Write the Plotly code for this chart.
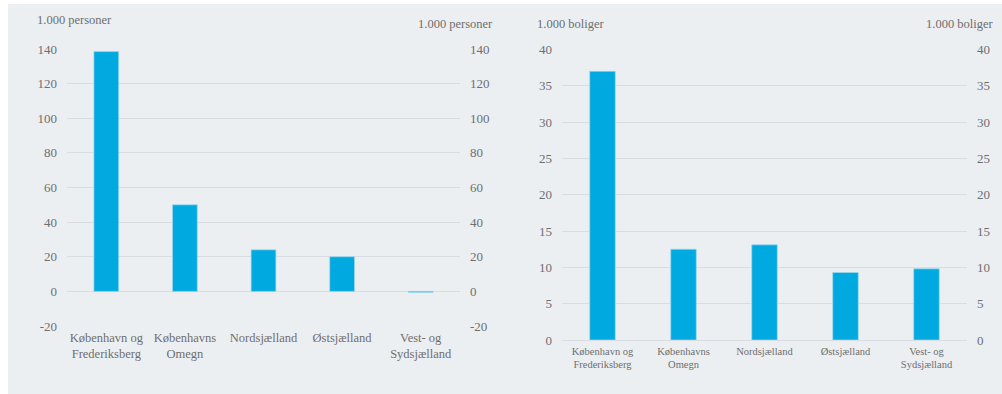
import plotly.graph_objects as go

# Regions shown on both panels
regions = [
    "København og<br>Frederiksberg",
    "Københavns<br>Omegn",
    "Nordsjælland",
    "Østsjælland",
    "Vest- og<br>Sydsjælland",
]

# Population growth, 1.000 persons
persons = [138.5, 50, 24, 20, -0.6]
# Housing need, 1.000 dwellings
dwellings = [37, 12.5, 13.1, 9.3, 9.8]

persons_ticks = [-20, 0, 20, 40, 60, 80, 100, 120, 140]
dwellings_ticks = [0, 5, 10, 15, 20, 25, 30, 35, 40]

W, H = 1002, 394
BAR = "#00A9E0"
BAR_EDGE = "#9ED8EE"
PANEL = "#ECEFF2"
GRID = "#D9DCE0"
TEXT = "#6E6E6E"
FONT = "Liberation Serif"


def px_x(v):
    return v / W


def px_y(v):
    return 1 - v / H


bar_style = dict(marker_color=BAR, marker_line=dict(color=BAR_EDGE, width=0.7))

fig = go.Figure()

# Left panel: persons
fig.add_trace(go.Bar(x=regions, y=persons, xaxis="x", yaxis="y",
                     hoverinfo="x+y", **bar_style))
fig.add_trace(go.Scatter(x=regions, y=persons, mode="markers", marker_opacity=0,
                         xaxis="x", yaxis="y3", hoverinfo="skip", showlegend=False))

# Right panel: dwellings
fig.add_trace(go.Bar(x=regions, y=dwellings, xaxis="x2", yaxis="y2",
                     hoverinfo="x+y", **bar_style))
fig.add_trace(go.Scatter(x=regions, y=dwellings, mode="markers", marker_opacity=0,
                         xaxis="x2", yaxis="y4", hoverinfo="skip", showlegend=False))

left_dom_x = [px_x(67), px_x(460)]
right_dom_x = [px_x(562), px_x(967)]
left_dom_y = [px_y(326), px_y(49)]
right_dom_y = [px_y(340), px_y(49.5)]

common_y = dict(
    showgrid=True, gridcolor=GRID, gridwidth=1,
    zeroline=True, zerolinecolor=GRID, zerolinewidth=1,
    showline=False, ticks="", ticklabelstandoff=9, automargin=False,
    tickfont=dict(family=FONT, size=13, color=TEXT),
)
no_grid = {**common_y, "showgrid": False, "zeroline": False}

fig.update_layout(
    template="none",
    width=W, height=H,
    margin=dict(l=0, r=0, t=0, b=0, pad=0),
    paper_bgcolor="white",
    plot_bgcolor="rgba(0,0,0,0)",
    showlegend=False,
    bargap=0.685,
    xaxis=dict(domain=left_dom_x, anchor="y", showgrid=False, showline=False,
               zeroline=False, ticks="", automargin=False,
               tickfont=dict(family=FONT, size=12.5, color=TEXT),
               ticklabelstandoff=2),
    xaxis2=dict(domain=right_dom_x, anchor="y2", showgrid=False, showline=False,
                zeroline=False, ticks="", automargin=False,
                tickfont=dict(family=FONT, size=10.5, color=TEXT),
                ticklabelstandoff=3),
    yaxis=dict(domain=left_dom_y, anchor="x", range=[-20, 140],
               tickvals=persons_ticks, ticktext=[str(v) for v in persons_ticks],
               **common_y),
    yaxis3=dict(overlaying="y", side="right", anchor="x", range=[-20, 140],
                tickvals=persons_ticks, ticktext=[str(v) for v in persons_ticks],
                **no_grid),
    yaxis2=dict(domain=right_dom_y, anchor="x2", range=[0, 40],
                tickvals=dwellings_ticks, ticktext=[str(v) for v in dwellings_ticks],
                **common_y),
    yaxis4=dict(overlaying="y2", side="right", anchor="x2", range=[0, 40],
                tickvals=dwellings_ticks, ticktext=[str(v) for v in dwellings_ticks],
                **no_grid),
    shapes=[
        dict(type="rect", xref="paper", yref="paper", layer="below",
             x0=px_x(8), x1=1, y0=0, y1=px_y(4),
             fillcolor=PANEL, line_width=0),
    ],
)

title_font = dict(family=FONT, size=12.5, color=TEXT)
fig.add_annotation(text="1.000 personer", xref="paper", yref="paper",
                   x=px_x(35), y=px_y(20.5), xanchor="left", yanchor="middle",
                   showarrow=False, font=title_font)
fig.add_annotation(text="1.000 personer", xref="paper", yref="paper",
                   x=px_x(495), y=px_y(24.5), xanchor="right", yanchor="middle",
                   showarrow=False, font=title_font)
fig.add_annotation(text="1.000 boliger", xref="paper", yref="paper",
                   x=px_x(535), y=px_y(24.5), xanchor="left", yanchor="middle",
                   showarrow=False, font=title_font)
fig.add_annotation(text="1.000 boliger", xref="paper", yref="paper",
                   x=px_x(995), y=px_y(24.5), xanchor="right", yanchor="middle",
                   showarrow=False, font=title_font)

fig.write_html("out.html")
